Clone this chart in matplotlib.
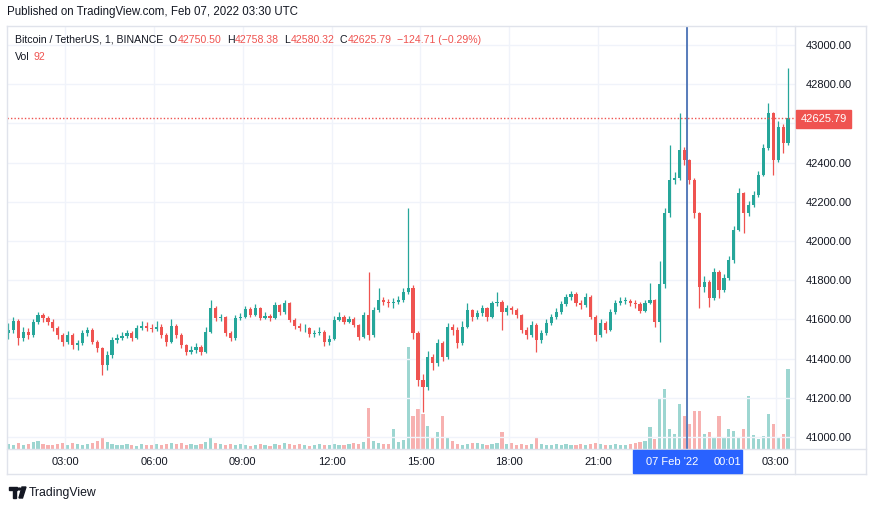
import matplotlib
matplotlib.use("Agg")
import matplotlib.pyplot as plt
import matplotlib.dates as mdates
from matplotlib.patches import Rectangle
from matplotlib.lines import Line2D
import numpy as np
import pandas as pd

plt.rcParams['font.family'] = ['Liberation Sans', 'DejaVu Sans']

# BTC/USDT, resampled to 10 minute candles (06 Feb 01:00 -> 07 Feb 03:20 UTC)
first_open = 41530.0
close = [41546, 41592, 41504, 41537, 41520, 41588, 41622, 41605, 41588, 41554,
         41520, 41483, 41520, 41469, 41478, 41529, 41546, 41486, 41452, 41367,
         41418, 41495, 41507, 41517, 41529, 41507, 41554, 41568, 41558, 41551,
         41563, 41520, 41486, 41568, 41520, 41469, 41435, 41444, 41461, 41435,
         41537, 41656, 41605, 41614, 41529, 41503, 41609, 41614, 41653, 41622,
         41656, 41609, 41619, 41605, 41673, 41639, 41682, 41597, 41568, 41554,
         41554, 41524, 41529, 41537, 41486, 41500, 41597, 41614, 41588, 41600,
         41571, 41512, 41622, 41520, 41648, 41699, 41690, 41682, 41690, 41699,
         41741, 41760, 41529, 41291, 41257, 41410, 41376, 41478, 41410, 41563,
         41546, 41478, 41563, 41648, 41614, 41631, 41656, 41614, 41682, 41690,
         41639, 41656, 41648, 41622, 41546, 41520, 41571, 41495, 41529, 41583,
         41611, 41639, 41678, 41713, 41730, 41685, 41673, 41716, 41614, 41520,
         41580, 41546, 41639, 41682, 41696, 41696, 41685, 41678, 41645, 41685,
         41699, 41588, 41780, 42141, 42311, 42320, 42464, 42413, 42311, 42141,
         41767, 41792, 41707, 41844, 41750, 41810, 41903, 42056, 42243, 42141,
         42184, 42235, 42337, 42473, 42651, 42413, 42583, 42498, 42625.79]
high = [41580, 41610, 41600, 41560, 41555, 41600, 41640, 41635, 41620, 41600,
        41565, 41530, 41540, 41530, 41495, 41545, 41560, 41555, 41495, 41460,
        41440, 41510, 41525, 41535, 41545, 41540, 41570, 41590, 41585, 41575,
        41590, 41575, 41530, 41600, 41575, 41530, 41475, 41465, 41480, 41470,
        41560, 41700, 41670, 41630, 41620, 41540, 41625, 41635, 41670, 41665,
        41680, 41665, 41640, 41630, 41690, 41680, 41700, 41690, 41605, 41580,
        41575, 41560, 41545, 41560, 41545, 41520, 41615, 41640, 41625, 41615,
        41610, 41575, 41640, 41840, 41665, 41760, 41715, 41705, 41710, 41720,
        41760, 42168, 41775, 41540, 41320, 41440, 41425, 41500, 41490, 41580,
        41575, 41560, 41590, 41683, 41655, 41650, 41675, 41665, 41695, 41741,
        41700, 41675, 41670, 41660, 41630, 41560, 41590, 41580, 41545, 41600,
        41630, 41660, 41695, 41730, 41745, 41740, 41700, 41735, 41725, 41625,
        41600, 41590, 41655, 41700, 41715, 41715, 41705, 41700, 41690, 41700,
        41784, 41705, 41900, 42170, 42490, 42350, 42651, 42480, 42420, 42320,
        42150, 41820, 41800, 41860, 41850, 41830, 41925, 42075, 42270, 42250,
        42205, 42255, 42355, 42495, 42703, 42660, 42610, 42595, 42881]
low = [41500, 41530, 41470, 41490, 41500, 41510, 41575, 41585, 41570, 41540,
       41500, 41465, 41475, 41450, 41445, 41470, 41515, 41475, 41435, 41315,
       41340, 41405, 41480, 41495, 41505, 41490, 41500, 41545, 41540, 41535,
       41540, 41505, 41465, 41480, 41505, 41455, 41420, 41425, 41430, 41420,
       41430, 41530, 41590, 41590, 41515, 41490, 41495, 41595, 41605, 41610,
       41615, 41595, 41600, 41590, 41600, 41625, 41630, 41585, 41550, 41540,
       41535, 41510, 41510, 41520, 41465, 41470, 41495, 41590, 41575, 41580,
       41560, 41495, 41505, 41495, 41510, 41640, 41675, 41665, 41660, 41680,
       41690, 41730, 41500, 41260, 41130, 41240, 41340, 41360, 41390, 41400,
       41520, 41455, 41470, 41555, 41590, 41600, 41620, 41590, 41605, 41670,
       41546, 41625, 41630, 41605, 41530, 41500, 41510, 41435, 41480, 41520,
       41570, 41600, 41630, 41670, 41700, 41670, 41655, 41665, 41600, 41490,
       41510, 41530, 41540, 41630, 41675, 41680, 41670, 41660, 41635, 41640,
       41680, 41560, 41486, 41760, 42124, 42290, 42310, 42390, 42290, 42120,
       41657, 41740, 41665, 41700, 41707, 41740, 41800, 41890, 42050, 42039,
       42130, 42175, 42225, 42330, 42465, 42337, 42405, 42447, 42490]
volume = [100, 80, 120, 80, 100, 140, 160, 100, 80, 80,
          100, 120, 80, 120, 100, 80, 100, 120, 160, 220,
          140, 100, 80, 80, 100, 80, 60, 100, 80, 80,
          100, 80, 100, 120, 100, 120, 80, 100, 80, 100,
          140, 240, 120, 100, 80, 100, 80, 100, 80, 60,
          80, 100, 80, 60, 100, 80, 120, 100, 80, 100,
          80, 60, 80, 100, 80, 80, 100, 80, 80, 100,
          120, 100, 140, 820, 160, 120, 100, 100, 400, 140,
          180, 2040, 660, 800, 700, 460, 240, 340, 660, 240,
          160, 100, 80, 100, 120, 120, 100, 80, 100, 120,
          340, 100, 120, 80, 100, 80, 100, 240, 100, 80,
          80, 100, 80, 100, 80, 80, 100, 80, 100, 120,
          100, 80, 80, 100, 80, 80, 100, 120, 140, 160,
          440, 200, 1000, 1200, 400, 300, 900, 660, 500, 760,
          760, 300, 340, 240, 660, 240, 400, 360, 240, 400,
          1060, 280, 200, 260, 700, 500, 240, 300, 1600]

price_ticks = [41000, 41200, 41400, 41600, 41800, 42000, 42200, 42400, 42600, 42800, 43000]
time_ticks = ['2022-02-06 03:00', '2022-02-06 06:00', '2022-02-06 09:00', '2022-02-06 12:00',
              '2022-02-06 15:00', '2022-02-06 18:00', '2022-02-06 21:00', '2022-02-07 03:00']
time_labels = ['03:00', '06:00', '09:00', '12:00', '15:00', '18:00', '21:00', '03:00']
last_price = 42625.79
cursor_time = '2022-02-07 00:01'
legend_ohlc = [('O', '42750.50'), ('H', '42758.38'), ('L', '42580.32'), ('C', '42625.79')]
legend_change = '\u2212124.71 (\u22120.29%)'

GREEN = '#26a69a'; RED = '#ef5350'; BORDER = '#e0e3eb'; GRID = '#f0f3fa'; TXT = '#131722'

W, H = 870, 508
fig = plt.figure(figsize=(W / 100, H / 100), dpi=100)
fx = lambda x: x / W
fy = lambda y: 1 - y / H

pos = [fx(7), fy(449), fx(795) - fx(7), fy(26) - fy(449)]
axv = fig.add_axes(pos)   # volume underneath
ax = fig.add_axes(pos, sharex=axv)
ax.patch.set_alpha(0)

close = np.array(close); high = np.array(high); low = np.array(low); volume = np.array(volume)
opn = np.r_[first_open, close[:-1]]
t = mdates.date2num(pd.date_range('2022-02-06 01:05', periods=len(close), freq='10min'))
up = close >= opn
col = np.where(up, GREEN, RED)
w = 6.5 / 1440

# volume
axv.bar(t, volume, width=w, color=col, alpha=0.45, linewidth=0)
axv.set_ylim(0, 8460)
axv.set_axis_off()

# grid
for p in price_ticks:
    ax.axhline(p, color=GRID, lw=1, zorder=0)
tt = mdates.date2num(pd.to_datetime(time_ticks + ['2022-02-07 00:00']))
for x in tt:
    ax.axvline(x, color=GRID, lw=1, zorder=0)

# candles
ax.vlines(t, low, high, colors=col, lw=0.9, zorder=2)
body = np.maximum(np.abs(close - opn), 4)
ax.bar(t, body, bottom=np.minimum(close, opn), width=w, color=col, linewidth=0, zorder=3)

ax.axhline(last_price, color=RED, lw=1, ls=(0, (1, 1.5)), zorder=4)
ax.axvline(mdates.date2num(pd.Timestamp(cursor_time)), color='#4a72b5', lw=1.3, zorder=5)

ax.set_xlim(mdates.date2num(pd.Timestamp('2022-02-06 01:02')), mdates.date2num(pd.Timestamp('2022-02-07 03:39')))
ax.set_ylim(40939, 43097)
ax.yaxis.tick_right()
ax.set_yticks(price_ticks)
ax.set_yticklabels(['%.2f' % p for p in price_ticks])
ax.set_xticks(tt[:-1])
ax.set_xticklabels(time_labels)
ax.tick_params(axis='y', length=0, pad=8, labelsize=8, labelcolor=TXT)
ax.tick_params(axis='x', length=0, pad=6, labelsize=8, labelcolor=TXT)
for s in ax.spines.values():
    s.set_visible(False)

# frame of the chart widget
def line(x0, y0, x1, y1):
    fig.add_artist(Line2D([fx(x0), fx(x1)], [fy(y0), fy(y1)], color=BORDER, lw=1))
line(7, 26, 866, 26); line(7, 474, 866, 474); line(7, 26, 7, 474); line(866, 26, 866, 474)
line(795, 26, 795, 474); line(7, 449, 866, 449)

# last price tag (sits over the 42600 label, as in TradingView)
fig.add_artist(Rectangle((fx(796), fy(128)), fx(851) - fx(796), fy(110) - fy(128), color=RED, zorder=10))
fig.text(fx(823.5), fy(119), '%.2f' % last_price, color='white', fontsize=8, ha='center', va='center', zorder=11)

# cursor time tag
fig.add_artist(Rectangle((fx(633), fy(473)), fx(742) - fx(633), fy(450) - fy(473), color='#2962ff', zorder=10))
fig.text(fx(672), fy(462), "07 Feb '22", color='white', fontsize=8, ha='center', va='center', zorder=11)
fig.text(fx(727), fy(462), '00:01', color='white', fontsize=8, ha='center', va='center', zorder=11)

# header texts
fig.text(fx(7), fy(12), 'Published on TradingView.com, Feb 07, 2022 03:30 UTC', fontsize=8.3, color=TXT, va='center')
prev = fig.text(fx(15), fy(40), 'Bitcoin / TetherUS, 1, BINANCE', fontsize=7.6, color=TXT, va='center')


def chain(prev, s, c, gap):
    # put text s just right of the text artist prev
    return plt.annotate(s, xy=(1, 0.5), xycoords=prev, xytext=(gap, 0), textcoords='offset points',
                        fontsize=7.6, color=c, va='center', ha='left', annotation_clip=False)


for letter, val in legend_ohlc:
    prev = chain(prev, letter, TXT, 4)
    prev = chain(prev, val, RED, 0.3)
chain(prev, legend_change, RED, 4)
vol = fig.text(fx(15), fy(57), 'Vol', fontsize=7.6, color=TXT, va='center')
chain(vol, '92', RED, 3)

# TradingView logo + name
fig.add_artist(Rectangle((fx(9), fy(490)), fx(17) - fx(9), fy(487) - fy(490), color=TXT))
fig.add_artist(Rectangle((fx(13), fy(498)), fx(16.5) - fx(13), fy(490) - fy(498), color=TXT))
fig.add_artist(plt.Circle((fx(19.5), fy(489)), 1.6 / W, color=TXT))
fig.add_artist(plt.Polygon([(fx(22), fy(487)), (fx(26), fy(487)), (fx(22.5), fy(498)), (fx(19), fy(498))], color=TXT))
fig.text(fx(29), fy(493), 'TradingView', fontsize=8.8, color=TXT, va='center')

fig.savefig('out.png', dpi=100)
